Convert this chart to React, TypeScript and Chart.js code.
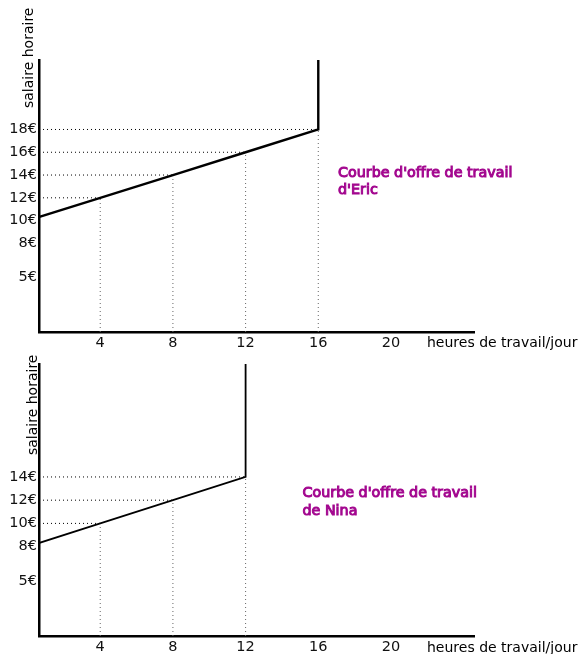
import React, { useEffect, useRef } from "react";
import { Chart, registerables } from "chart.js";

Chart.register(...registerables);
Chart.defaults.font.family = "DejaVu Sans";

// ---- data ----
const hourTicks = [4, 8, 12, 16, 20];
const hourRange = [0.63, 24.57];

const ericWageTicks = [5, 8, 10, 12, 14, 16, 18];
const ericHours = [0, 4, 8, 12, 16];
const ericWages = [10, 12, 14, 16, 18];
const ericWageRange = [0.22, 24.1];

const ninaWageTicks = [5, 8, 10, 12, 14];
const ninaHours = [0, 4, 8, 12];
const ninaWages = [8, 10, 12, 14];
const ninaWageRange = [0.3, 23.73];

const yTitle = "salaire horaire";
const xTitle = "heures de travail/jour";
const ericNote = ["Courbe d'offre de travail", "d'Eric"];
const ninaNote = ["Courbe d'offre de travail", "de Nina"];

type PanelCfg = {
  hours: number[];
  wages: number[];
  wageTicks: number[];
  wageRange: number[];
  note: string[];
  height: number;
  padTop: number;
  xAxisH: number;
  lineW: number;
  yTitleX: number;
  yTitleStartY: number;
  xTitleY: number;
  noteX: number;
  noteY: number;
};

function buildConfig(p: PanelCfg): any {
  const maxH = p.hours[p.hours.length - 1];
  const xmin = hourRange[0];
  const ymin = p.wageRange[0];
  const ymax = p.wageRange[1];
  const curve = p.hours.map((h, i) => ({ x: h, y: p.wages[i] }));
  curve.push({ x: maxH, y: ymax });
  const datasets: any[] = [
    {
      data: curve,
      borderColor: "#000",
      borderWidth: p.lineW,
      pointRadius: 0,
      tension: 0,
    },
  ];
  p.hours.forEach((h, i) => {
    if (h === 0) return;
    const w = p.wages[i];
    datasets.push({
      data: [
        { x: xmin, y: w },
        { x: h, y: w },
      ],
      borderColor: "#000",
      borderWidth: 1,
      borderDash: [1, 3],
      pointRadius: 0,
    });
    datasets.push({
      data: [
        { x: h, y: ymin },
        { x: h, y: w },
      ],
      borderColor: "#666",
      borderWidth: 1,
      borderDash: [1, 3],
      pointRadius: 0,
    });
  });

  const textPlugin = {
    id: "texts",
    afterDraw(chart: any) {
      const ctx = chart.ctx;
      ctx.save();
      ctx.font = "14px 'DejaVu Sans'";
      ctx.fillStyle = "#000";
      // y title
      ctx.save();
      ctx.translate(p.yTitleX, p.yTitleStartY);
      ctx.rotate(-Math.PI / 2);
      ctx.textAlign = "left";
      ctx.textBaseline = "alphabetic";
      ctx.fillText(yTitle, 0, 0);
      ctx.restore();
      // x title
      ctx.textAlign = "left";
      ctx.textBaseline = "middle";
      ctx.fillText(xTitle, chart.chartArea.right - 47, p.xTitleY);
      // note
      ctx.font = "14.3px 'DejaVu Sans'";
      ctx.fillStyle = "#a3078f";
      ctx.strokeStyle = "#a3078f";
      ctx.lineWidth = 1;
      ctx.textBaseline = "alphabetic";
      p.note.forEach((line, i) => {
        ctx.fillText(line, p.noteX, p.noteY + i * 17.6);
        ctx.strokeText(line, p.noteX, p.noteY + i * 17.6);
      });
      ctx.restore();
    },
  };

  return {
    type: "line",
    data: { datasets },
    plugins: [textPlugin],
    options: {
      animation: false,
      responsive: false,
      layout: { padding: { top: p.padTop, right: 108, bottom: 0, left: 0 } },
      plugins: { legend: { display: false }, tooltip: { enabled: false } },
      scales: {
        x: {
          type: "linear",
          min: hourRange[0],
          max: hourRange[1],
          afterBuildTicks: (s: any) => {
            s.ticks = hourTicks.map((v) => ({ value: v }));
          },
          afterFit: (s: any) => {
            s.height = p.xAxisH;
          },
          grid: { display: false, drawTicks: false },
          border: { display: true, color: "#000", width: 2.5 },
          ticks: {
            padding: 3,
            color: "#111",
            font: { size: 14.5 },
            maxRotation: 0,
            autoSkip: false,
          },
        },
        y: {
          type: "linear",
          min: ymin,
          max: ymax,
          afterBuildTicks: (s: any) => {
            s.ticks = p.wageTicks.map((v) => ({ value: v }));
          },
          afterFit: (s: any) => {
            s.width = 39;
          },
          grid: { display: false, drawTicks: false },
          border: { display: true, color: "#000", width: 2.5 },
          ticks: {
            padding: 2,
            color: "#111",
            font: { size: 14.5 },
            autoSkip: false,
            callback: (v: any) => v + "€",
          },
        },
      },
    },
  };
}

const topPanel: PanelCfg = {
  hours: ericHours,
  wages: ericWages,
  wageTicks: ericWageTicks,
  wageRange: ericWageRange,
  note: ericNote,
  height: 354,
  padTop: 60,
  xAxisH: 22,
  lineW: 2.4,
  yTitleX: 33,
  yTitleStartY: 108,
  xTitleY: 343,
  noteX: 338,
  noteY: 176.5,
};

const bottomPanel: PanelCfg = {
  hours: ninaHours,
  wages: ninaWages,
  wageTicks: ninaWageTicks,
  wageRange: ninaWageRange,
  note: ninaNote,
  height: 314,
  padTop: 24,
  xAxisH: 18,
  lineW: 1.8,
  yTitleX: 37,
  yTitleStartY: 115,
  xTitleY: 308,
  noteX: 302.5,
  noteY: 157.3,
};

function Panel({ cfg, top }: { cfg: PanelCfg; top: number }) {
  const ref = useRef<HTMLCanvasElement | null>(null);
  useEffect(() => {
    if (!ref.current) return;
    const chart = new Chart(ref.current, buildConfig(cfg));
    return () => chart.destroy();
  }, [cfg]);
  return (
    <canvas
      ref={ref}
      width={582}
      height={cfg.height}
      style={{
        position: "absolute",
        left: 0,
        top,
        width: 582,
        height: cfg.height,
      }}
    />
  );
}

export default function App() {
  return (
    <div
      style={{
        position: "fixed",
        left: 0,
        top: 0,
        width: 582,
        height: 654,
        background: "#fff",
      }}
    >
      <Panel cfg={topPanel} top={0} />
      <Panel cfg={bottomPanel} top={340} />
    </div>
  );
}
